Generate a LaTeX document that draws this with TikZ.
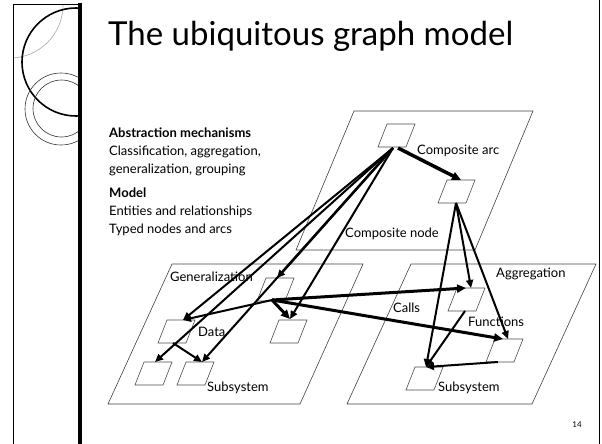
\documentclass[tikz,border=0pt]{standalone}
\usepackage{fontspec}
\setmainfont{Lato}
\usetikzlibrary{arrows.meta}
\tikzset{
  plane/.style={draw=black!75, line width=0.6pt},
  boxline/.style={draw=black!70, line width=0.6pt, fill=white},
  arr/.style={line width=2pt, -{Triangle[length=8pt,width=7pt]}},
  tarr/.style={line width=3pt, -{Triangle[length=9pt,width=8pt]}},
  lbl/.style={anchor=west, inner sep=0pt, font=\fontsize{13}{15}\selectfont},
  body/.style={anchor=base west, inner sep=0pt, font=\fontsize{13}{15}\selectfont},
}
\newcommand{\pbox}[3]{\draw[boxline] (#2,#3) -- ++(28,0) -- ++(-9,23) -- ++(-28,0) -- cycle; \coordinate (#1) at (#2,#3);}
\begin{document}
\begin{tikzpicture}[x=1pt,y=-1pt]
\useasboundingbox (0,0) rectangle (602,444);
% left decorative panel
\begin{scope}
\clip (13,5) rectangle (78,444);
\draw[black!35, line width=0.6pt] (10,5) circle (53);
\draw[black, line width=1.6pt] (76,62) circle (54);
\draw[black!80, line width=0.6pt] (61,109) circle (36);
\draw[black!80, line width=0.6pt] (61.5,108.5) circle (28.5);
\end{scope}
\draw[line width=1pt] (13,444) -- (13,5) -- (80,5);
\draw[line width=4pt] (80,3) -- (80,444);
\draw[line width=1pt] (599,0) -- (599,444);
% title
\node[anchor=base west, inner sep=0pt] (title) at (108,46) {\resizebox{405pt}{!}{\fontsize{26}{30}\selectfont The ubiquitous graph model}};
% text block
\node[body] (t1) at (109,137) {\bfseries Abstraction mechanisms};
\node[body] (t2) at (109,155) {Classification, aggregation,};
\node[body] (t3) at (109,173) {generalization, grouping};
\node[body] (t4) at (109,197) {\bfseries Model};
\node[body] (t5) at (109,215) {Entities and relationships};
\node[body] (t6) at (109,233) {Typed nodes and arcs};
% planes
\draw[plane] (354,111) -- (533,111) -- (475,250) -- (296,250) -- cycle;
\draw[plane] (172,264) -- (363,264) -- (300,404) -- (108,404) -- cycle;
\draw[plane] (411,264) -- (596,264) -- (532,404) -- (347,404) -- cycle;
% small boxes
\pbox{A}{387}{124}
\pbox{B}{447}{180}
\pbox{C}{266}{278}
\pbox{D}{167}{320}
\pbox{E}{279}{320}
\pbox{F}{144}{362}
\pbox{G}{186}{362}
\pbox{H}{457}{288}
\pbox{I}{495}{339}
\pbox{J}{415}{367}
% labels
\node[lbl] (lca) at (417,151) {Composite arc};
\node[lbl] (lcn) at (345,234) {Composite node};
\node[lbl] (lgen) at (170,277) {Generalization};
\node[lbl] (ldata) at (198,332) {Data};
\node[lbl] (lsub1) at (207,388) {Subsystem};
\node[lbl] (lagg) at (496,274) {Aggregation};
\node[lbl] (lcalls) at (393,308) {Calls};
\node[lbl] (lfun) at (468,322) {Functions};
\node[lbl] (lsub2) at (438,388) {Subsystem};
\node[anchor=base, inner sep=0pt, font=\fontsize{8}{9}\selectfont] (pg) at (577,427) {14};
% connector end points
\coordinate (Aout) at (393,148);
\coordinate (Aout2) at (398,148);
\coordinate (Bin) at (461,180);
\coordinate (Bout) at (456,203);
\coordinate (Cin) at (277,278);
\coordinate (Cout) at (272,300);
\coordinate (Din) at (183,320);
\coordinate (Dout) at (173,343);
\coordinate (Ein) at (290,319);
\coordinate (Fin) at (155,362);
\coordinate (Gin) at (202,362);
\coordinate (Hin1) at (466,288);
\coordinate (Hin2) at (471,288);
\coordinate (Hout) at (465,311);
\coordinate (Iin1) at (503,339);
\coordinate (Iin2) at (508,339);
\coordinate (Iout) at (498,362);
\coordinate (Jin) at (426,367);
% connectors
\draw[line width=3.5pt, -{Triangle[length=9pt,width=8pt]}] (Aout2) -- (Bin);
\draw[arr] (Aout) -- (Din);
\draw[arr] (Aout) -- (Fin);
\draw[arr] (Aout) -- (Gin);
\draw[arr, line width=2.5pt] (Aout) -- (Cin);
\draw[arr] (Aout) -- (Ein);
\draw[arr] (Dout) -- (Gin);
\draw[arr] (Cout) -- (Din);
\draw[tarr] (Cout) -- (Ein);
\draw[tarr] (Cout) -- (Hin1);
\draw[tarr] (Cout) -- (Iin1);
\draw[arr] (Bout) -- (Jin);
\draw[arr] (Bout) -- (Hin2);
\draw[arr] (Bout) -- (Iin2);
\draw[arr] (Hout) -- (Jin);
\draw[arr] (Iout) -- (Jin);
\end{tikzpicture}
\end{document}
